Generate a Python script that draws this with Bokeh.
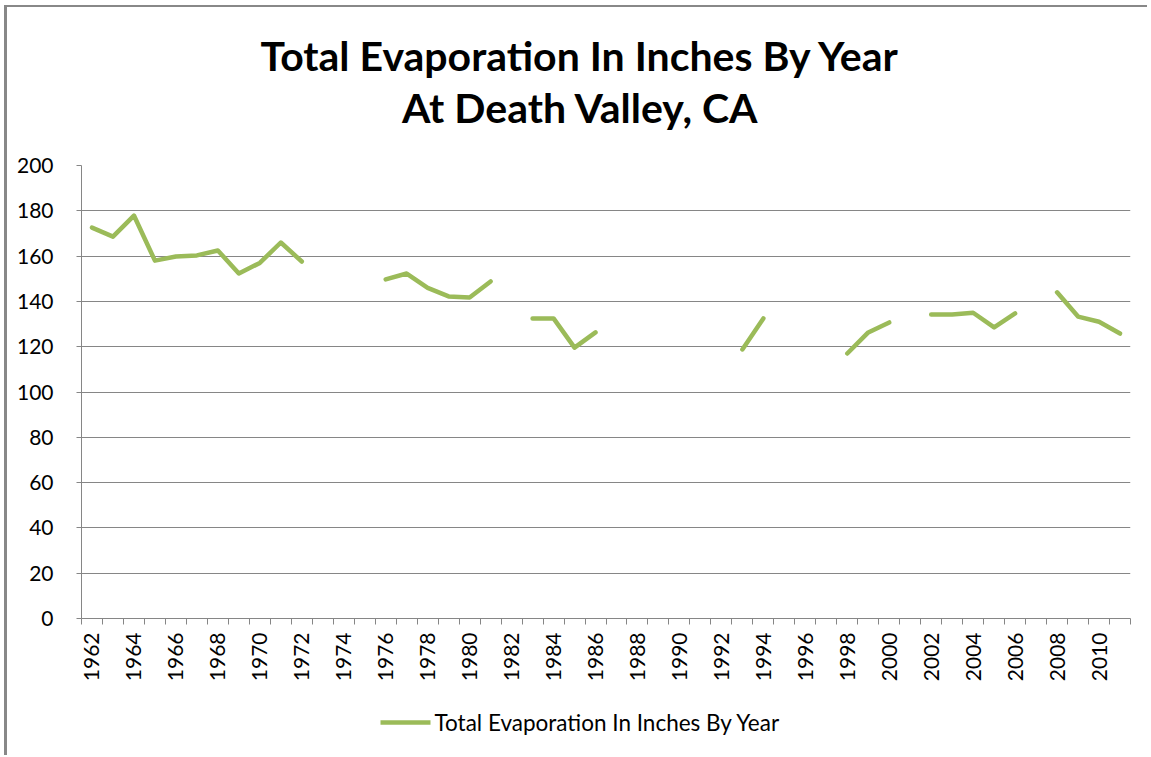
import math
from bokeh.plotting import figure
from bokeh.layouts import column
from bokeh.models import Range1d, FixedTicker, ColumnDataSource
from bokeh.core.properties import value
from bokeh.embed import file_html
from bokeh.resources import INLINE

years = list(range(1962, 2012))
nan = float("nan")
evaporation = [
    172.6, 168.6, 177.9, 158.0, 159.8, 160.3, 162.5, 152.3, 157.0, 166.0,  # 1962-1971
    157.6, nan, nan, nan, 149.7, 152.3, 146.0, 142.2, 141.7, 148.8,       # 1972-1981
    nan, 132.5, 132.5, 119.6, 126.3, nan, nan, nan, nan, nan,             # 1982-1991
    nan, 118.8, 132.5, nan, nan, nan, 117.0, 126.3, 130.7, nan,           # 1992-2001
    134.2, 134.2, 135.0, 128.5, 134.7, nan, 144.0, 133.3, 131.0, 125.8,   # 2002-2011
]
label_years = list(range(1962, 2011, 2))
y_ticks = list(range(0, 201, 20))
series_name = "Total Evaporation In Inches By Year"
title_lines = ["Total Evaporation In Inches By Year", "At Death Valley, CA"]

GREEN = "#9BBB59"
GREY = "#868686"
FONT = "Lato"

W, H0, H1, H2 = 1140, 143, 538, 67
BL, BR = 74, 17


def pixel_fig(h):
    f = figure(width=W, height=h, output_backend="svg", toolbar_location=None,
               x_range=Range1d(BL, W - BR), y_range=Range1d(0, h),
               min_border_left=BL, min_border_right=BR, min_border_top=0, min_border_bottom=0,
               x_axis_location=None, y_axis_location=None)
    f.grid.visible = False
    f.outline_line_color = None
    return f


# title strip
tf = pixel_fig(H0)
tf.text(x=[573, 573], y=[H0 - 48, H0 - 100], text=title_lines, text_font=value(FONT),
        text_font_style="bold", text_font_size="41px", text_align="center",
        text_baseline="middle", text_color="black")

# main chart
p = figure(width=W, height=H1, output_backend="svg", toolbar_location=None,
           x_range=Range1d(years[0] - 0.5, years[-1] + 0.5), y_range=Range1d(0, 200),
           min_border_left=BL, min_border_right=BR, min_border_top=15, min_border_bottom=70)

src = ColumnDataSource(dict(x=years, y=evaporation))
r = p.line("x", "y", source=src, line_color=GREEN, line_width=4.5, line_join="round", line_cap="round")

p.outline_line_color = None
p.xgrid.grid_line_color = None
p.ygrid.grid_line_color = GREY
p.ygrid.grid_line_width = 1

p.yaxis.ticker = FixedTicker(ticks=y_ticks)
p.yaxis.axis_line_color = GREY
p.yaxis.major_tick_line_color = GREY
p.yaxis.major_tick_out = 5
p.yaxis.major_tick_in = 0
p.yaxis.minor_tick_line_color = None
p.yaxis.major_label_text_font = FONT
p.yaxis.major_label_text_font_size = "21px"
p.yaxis.major_label_text_color = "black"
p.yaxis.major_label_standoff = 23

p.xaxis.ticker = FixedTicker(ticks=label_years, minor_ticks=[y - 0.5 for y in years] + [years[-1] + 0.5])
p.xaxis.axis_line_color = GREY
p.xaxis.major_tick_line_color = None
p.xaxis.minor_tick_line_color = GREY
p.xaxis.minor_tick_out = 6
p.xaxis.minor_tick_in = 0
p.xaxis.major_label_orientation = math.pi / 2
p.xaxis.major_label_text_font = FONT
p.xaxis.major_label_text_font_size = "21px"
p.xaxis.major_label_text_color = "black"
p.xaxis.major_label_standoff = 8

# legend strip
lg = pixel_fig(H2)
LX, LY = 373, 33
lg.line(x=[LX, LX + 50], y=[LY, LY], line_color=GREEN, line_width=4.5)
lg.text(x=[LX + 54], y=[LY], text=[series_name], text_font=value(FONT), text_font_size="22.5px",
        text_baseline="middle", text_align="left", text_color="black")

layout = column(tf, p, lg, spacing=0)
layout.styles = {"border-top": "2px solid #888888", "border-left": "3px solid #888888",
                 "margin-top": "5px", "margin-left": "4px"}

open("out.html", "w").write(file_html(layout, INLINE))
